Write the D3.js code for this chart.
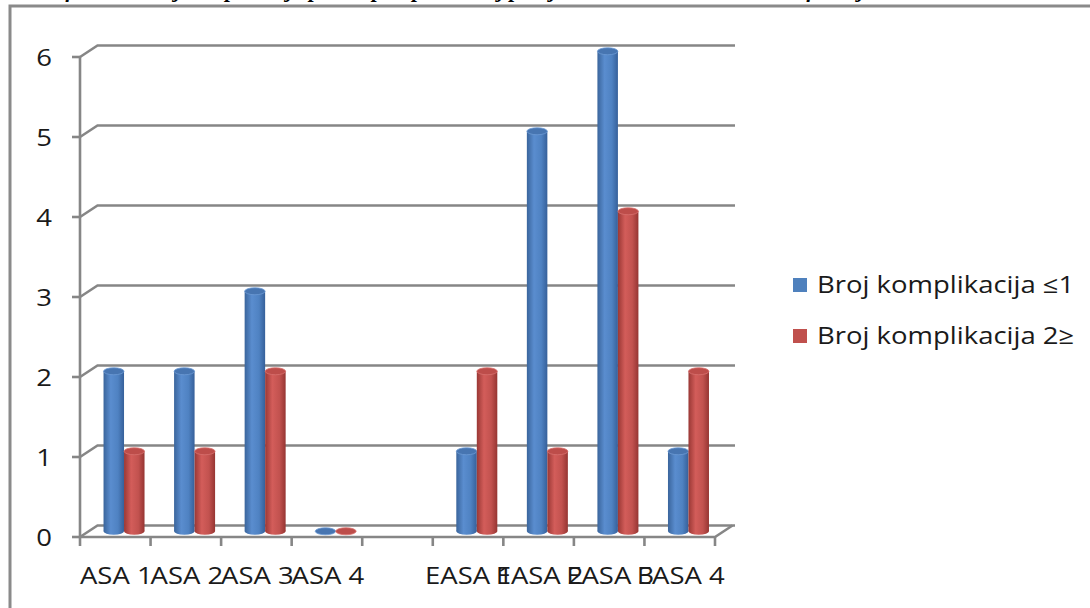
<!DOCTYPE html>
<html>
<head>
  <meta charset="UTF-8">
  <style>
    body {
      margin: 0;
      padding: 0;
      background-color: #ffffff;
      overflow: hidden;
    }
    svg {
      display: block;
      font-family: "Open Sans", "Liberation Sans", Arial, sans-serif;
    }
    .grid {
      stroke: #868686;
      stroke-width: 2.6;
      fill: none;
    }
    .label {
      font-size: 23.5px;
      fill: #1a1a1a;
    }
  </style>
</head>
<body>
  <svg></svg>
  <script src="https://d3js.org/d3.v7.min.js"></script>

  <script>
  // data
  const categories = ["ASA 1", "ASA 2", "ASA 3", "ASA 4", "", "EASA 1", "EASA 2", "EASA 3", "EASA 4"];
  const seriesNames = ["Broj komplikacija  \u22641", "Broj komplikacija 2\u2265"];
  const lowComplications = [2, 2, 3, 0, null, 1, 5, 6, 1];
  const highComplications = [1, 1, 2, 0, null, 2, 1, 4, 2];
  const yTicks = [0, 1, 2, 3, 4, 5, 6];

  let width = 1090, height = 608;
  const stretch = 1.17; // the original text is set wide

  let svg = d3.select("svg")
      .attr("width", width)
      .attr("height", height);

  // clipped caption above the frame (only the descenders show)
  svg.append("text")
      .attr("x", 30)
      .attr("y", -3)
      .style("font-family", "'Liberation Serif', 'Times New Roman', serif")
      .style("font-style", "italic")
      .style("font-weight", "bold")
      .style("font-size", "22px")
      .text("Grafikon 4. Broj komplikacija prema preoperativnoj procjeni rizika ASA i EASA klasifikacijom");

  // frame
  svg.append("path")
      .attr("d", "M10,608 L10,6 L1090,6")
      .attr("stroke", "#8a8a8a")
      .attr("stroke-width", 3)
      .attr("fill", "none");

  // 3d geometry
  const dx = 17.5, dy = -11.5;
  const wallRight = 735;

  const x = d3.scaleBand()
      .domain(categories)
      .range([80, 715]);

  const y = d3.scaleLinear()
      .domain([0, 6])
      .range([537, 57]);

  const walls = svg.append("g").attr("id", "walls");

  // back wall gridlines + left side wall diagonals
  yTicks.forEach(v => {
      walls.append("path")
          .attr("class", "grid")
          .attr("d", `M${x.range()[0]},${y(v)} L${x.range()[0] + dx},${y(v) + dy} L${wallRight},${y(v) + dy}`);
      walls.append("line")
          .attr("class", "grid")
          .attr("x1", x.range()[0] - 8).attr("x2", x.range()[0])
          .attr("y1", y(v)).attr("y2", y(v));
  });

  // front vertical axis
  walls.append("line")
      .attr("class", "grid")
      .attr("x1", x.range()[0]).attr("x2", x.range()[0])
      .attr("y1", y(6)).attr("y2", y(0) + 1);

  // floor front edge and right edge
  walls.append("path")
      .attr("class", "grid")
      .attr("d", `M${x.range()[0]},${y(0)} L${x.range()[1]},${y(0)} L${x.range()[1] + dx},${y(0) + dy}`);

  // category ticks
  const bounds = categories.map(c => x(c)).concat([x.range()[1]]);
  walls.selectAll("line.ctick")
      .data(bounds)
      .enter()
      .append("line")
      .attr("class", "grid ctick")
      .attr("x1", d => d).attr("x2", d => d)
      .attr("y1", y(0)).attr("y2", y(0) + 9);

  // y labels
  svg.append("g")
      .selectAll("text")
      .data(yTicks)
      .enter()
      .append("text")
      .attr("class", "label")
      .attr("transform", d => `translate(52,${y(d) + 9}) scale(${stretch},1)`)
      .attr("text-anchor", "end")
      .text(d => d);

  // category labels
  svg.append("g")
      .selectAll("text")
      .data(categories)
      .enter()
      .append("text")
      .attr("class", "label")
      .attr("transform", d => `translate(${x(d) + x.bandwidth() / 2 + 1},584) scale(${stretch},1)`)
      .attr("text-anchor", "middle")
      .text(d => d);

  // gradients for cylinders
  const defs = svg.append("defs");
  const palettes = [
      { id: "blueCyl", stops: ["#3a659c", "#5a8dcf", "#4f82c2", "#36609a"], top: "#4775b1", rim: "#6d9ad4" },
      { id: "redCyl", stops: ["#9a3835", "#d35d5a", "#c2524f", "#963532"], top: "#bd4d4a", rim: "#d8716e" }
  ];
  palettes.forEach(p => {
      const g = defs.append("linearGradient")
          .attr("id", p.id)
          .attr("x1", "0%").attr("y1", "0%")
          .attr("x2", "100%").attr("y2", "0%");
      [0, 0.35, 0.7, 1].forEach((o, i) => {
          g.append("stop").attr("offset", o * 100 + "%").attr("stop-color", p.stops[i]);
      });
  });

  // cylinders
  const barW = 20.5, ry = 3.5;
  const series = [lowComplications, highComplications];
  const bars = svg.append("g").attr("id", "bars");

  categories.forEach((c, i) => {
      series.forEach((vals, s) => {
          const v = vals[i];
          if (v === null) return;
          const cx = x(c) + x.bandwidth() / 2 + dx / 2 + (s === 0 ? -barW / 2 : barW / 2);
          const yTop = y(v) + dy / 2;
          const yBot = y(0) + dy / 2;
          const pal = palettes[s];
          const g = bars.append("g");
          if (v > 0) {
              g.append("ellipse")
                  .attr("cx", cx).attr("cy", yBot)
                  .attr("rx", barW / 2).attr("ry", ry)
                  .attr("fill", `url(#${pal.id})`);
              g.append("rect")
                  .attr("x", cx - barW / 2)
                  .attr("y", yTop)
                  .attr("width", barW)
                  .attr("height", yBot - yTop)
                  .attr("fill", `url(#${pal.id})`);
          }
          g.append("ellipse")
              .attr("cx", cx).attr("cy", yTop)
              .attr("rx", barW / 2).attr("ry", ry)
              .attr("fill", pal.top)
              .attr("stroke", pal.rim)
              .attr("stroke-width", 0.8);
      });
  });

  // legend
  const legend = svg.append("g")
      .attr("id", "legend")
      .attr("transform", "translate(793, 278)");

  legend.selectAll("rect")
      .data(seriesNames)
      .enter()
      .append("rect")
      .attr("x", 0)
      .attr("y", (d, i) => i * 51)
      .attr("width", 14)
      .attr("height", 14)
      .attr("fill", (d, i) => i === 0 ? "#4f81bd" : "#c0504d");

  legend.selectAll("text")
      .data(seriesNames)
      .enter()
      .append("text")
      .attr("class", "label")
      .attr("transform", (d, i) => `translate(24,${i * 51 + 15}) scale(${stretch},1)`)
      .text(d => d);
  </script>

</body>
</html>
